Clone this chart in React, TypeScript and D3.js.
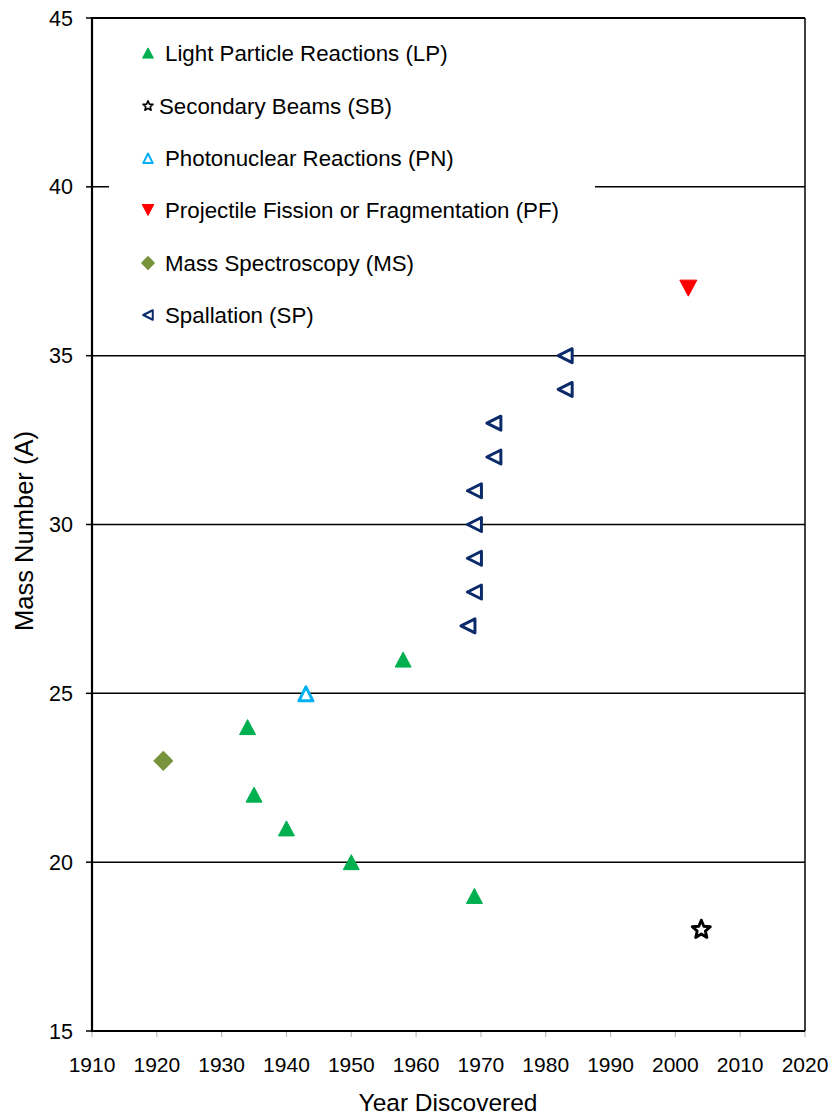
import React from 'react';
import * as d3 from 'd3';

// ---- data ----
const yearsLP = [1934, 1935, 1940, 1950, 1958, 1969];
const massLP = [24, 22, 21, 20, 26, 19];
const yearsSB = [2004];
const massSB = [18];
const yearsPN = [1943];
const massPN = [25];
const yearsPF = [2002];
const massPF = [37];
const yearsMS = [1921];
const massMS = [23];
const yearsSP = [1968, 1969, 1969, 1969, 1969, 1972, 1972, 1983, 1983];
const massSP = [27, 28, 29, 30, 31, 32, 33, 34, 35];

const xTicks = [1910, 1920, 1930, 1940, 1950, 1960, 1970, 1980, 1990, 2000, 2010, 2020];
const yTicks = [15, 20, 25, 30, 35, 40, 45];
const gridValues = [20, 25, 30, 35, 40];

const legendLabels = [
  'Light Particle Reactions (LP)',
  'Secondary Beams (SB)',
  'Photonuclear Reactions (PN)',
  'Projectile Fission or Fragmentation (PF)',
  'Mass Spectroscopy (MS)',
  'Spallation (SP)',
];
const legendKeys = ['LP', 'SB', 'PN', 'PF', 'MS', 'SP'];

const COLORS: Record<string, string> = {
  LP: '#00b050',
  SB: '#000000',
  PN: '#00b0f0',
  PF: '#ff0000',
  MS: '#77933c',
  SP: '#0a2a6a',
};

const FONT = "'Liberation Sans', Arial, Helvetica, sans-serif";

// ---- shapes ----
const triUp = (cx: number, cy: number, w: number, h: number) =>
  `M${cx - w / 2},${cy + h / 2}L${cx},${cy - h / 2}L${cx + w / 2},${cy + h / 2}Z`;
const triDown = (cx: number, cy: number, w: number, h: number) =>
  `M${cx - w / 2},${cy - h / 2}L${cx + w / 2},${cy - h / 2}L${cx},${cy + h / 2}Z`;
const triLeft = (cx: number, cy: number, w: number, h: number) =>
  `M${cx + w / 2},${cy - h / 2}L${cx - w / 2},${cy}L${cx + w / 2},${cy + h / 2}Z`;
const diamond = (cx: number, cy: number, r: number) =>
  `M${cx},${cy - r}L${cx + r},${cy}L${cx},${cy + r}L${cx - r},${cy}Z`;
const star = (cx: number, cy: number, R: number, r: number) => {
  const pts: [number, number][] = [];
  for (let k = 0; k < 10; k++) {
    const a = -Math.PI / 2 + (k * Math.PI) / 5;
    const rad = k % 2 === 0 ? R : r;
    pts.push([cx + rad * Math.cos(a), cy + rad * Math.sin(a)]);
  }
  return d3.line()(pts) + 'Z';
};

function marker(key: string, cx: number, cy: number, scale: number) {
  const c = COLORS[key];
  switch (key) {
    case 'LP':
      return <path d={triUp(cx, cy, 16 * scale, 15 * scale)} fill={c} stroke={c} strokeWidth={1} strokeLinejoin="round" />;
    case 'SB':
      return <path d={star(cx, cy, 9.5 * scale, 4.3 * scale)} fill="#fff" stroke={c} strokeWidth={2.9 * scale} strokeLinejoin="round" />;
    case 'PN':
      return <path d={triUp(cx, cy + 0.5 * scale, 14 * scale, 14 * scale)} fill="#fff" stroke={c} strokeWidth={3 * scale} strokeLinejoin="round" />;
    case 'PF':
      return <path d={triDown(cx, cy, 17 * scale, 16 * scale)} fill={c} stroke={c} strokeWidth={1} strokeLinejoin="round" />;
    case 'MS':
      return <path d={diamond(cx, cy, 9 * scale)} fill={c} stroke={c} strokeWidth={1.5} strokeLinejoin="round" />;
    case 'SP':
      return <path d={triLeft(cx, cy, 14 * scale, 14 * scale)} fill="#fff" stroke={c} strokeWidth={3 * scale} strokeLinejoin="round" />;
  }
  return null;
}

export default function App() {
  const W = 833;
  const H = 1118;
  const left = 92;
  const right = 805;
  const top = 18;
  const bottom = 1031;

  const x = d3.scaleLinear().domain([1910, 2020]).range([left, right]);
  const y = d3.scaleLinear().domain([15, 45]).range([bottom, top]);

  const series: { key: string; xs: number[]; ys: number[] }[] = [
    { key: 'MS', xs: yearsMS, ys: massMS },
    { key: 'LP', xs: yearsLP, ys: massLP },
    { key: 'PN', xs: yearsPN, ys: massPN },
    { key: 'SP', xs: yearsSP, ys: massSP },
    { key: 'PF', xs: yearsPF, ys: massPF },
    { key: 'SB', xs: yearsSB, ys: massSB },
  ];

  const legendRowY = [53, 106, 158, 210, 263, 315];
  const legendTextX = [165, 159, 165, 165, 165, 165];

  return (
    <svg width={W} height={H} style={{ position: 'absolute', left: 0, top: 0, background: '#fff' }} fontFamily={FONT}>
      <rect x={0} y={0} width={W} height={H} fill="#fff" />
      {/* gridlines */}
      {gridValues.map((v) => (
        <line key={'g' + v} x1={left} x2={right} y1={y(v)} y2={y(v)} stroke="#000" strokeWidth={1.5} />
      ))}
      {/* legend background */}
      <rect x={109} y={26} width={486} height={312} fill="#fff" />
      {/* top & right borders */}
      <line x1={left} x2={right} y1={top} y2={top} stroke="#000" strokeWidth={2} />
      <line x1={right} x2={right} y1={top} y2={bottom} stroke="#000" strokeWidth={1.5} />
      {/* x ticks */}
      {xTicks.map((t) => (
        <line key={'xt' + t} x1={x(t)} x2={x(t)} y1={bottom} y2={bottom + 6} stroke="#bdbdbd" strokeWidth={1.2} />
      ))}
      {/* y ticks */}
      {yTicks.map((t) => (
        <line key={'yt' + t} x1={left - 6} x2={left} y1={y(t)} y2={y(t)} stroke="#000" strokeWidth={1.5} />
      ))}
      {/* axes */}
      <line x1={left} x2={left} y1={top - 1} y2={bottom + 1} stroke="#000" strokeWidth={2.2} />
      <line x1={left} x2={right} y1={bottom} y2={bottom} stroke="#000" strokeWidth={2.2} />
      {/* tick labels */}
      {xTicks.map((t) => (
        <text key={'xl' + t} x={x(t)} y={bottom + 41} textAnchor="middle" fontSize={21} fill="#000">
          {t}
        </text>
      ))}
      {yTicks.map((t) => (
        <text key={'yl' + t} x={left - 19} y={y(t) + 7.5} textAnchor="end" fontSize={21.5} fill="#000">
          {t}
        </text>
      ))}
      {/* axis titles */}
      <text x={448} y={1111} textAnchor="middle" fontSize={24.5} fill="#000">
        Year Discovered
      </text>
      <text transform="translate(33,531) rotate(-90)" textAnchor="middle" fontSize={25.5} fill="#000">
        Mass Number (A)
      </text>
      {/* data */}
      {series.map((s) => (
        <g key={s.key}>
          {s.xs.map((xv, i) => (
            <g key={i}>{marker(s.key, x(xv), y(s.ys[i]), 1)}</g>
          ))}
        </g>
      ))}
      {/* legend */}
      {legendKeys.map((k, i) => (
        <g key={'lg' + k}>
          {marker(k, 148, legendRowY[i], k === 'SB' ? 0.55 : 0.68)}
          <text x={legendTextX[i]} y={legendRowY[i] + 8} fontSize={22.3} fill="#000">
            {legendLabels[i]}
          </text>
        </g>
      ))}
    </svg>
  );
}
